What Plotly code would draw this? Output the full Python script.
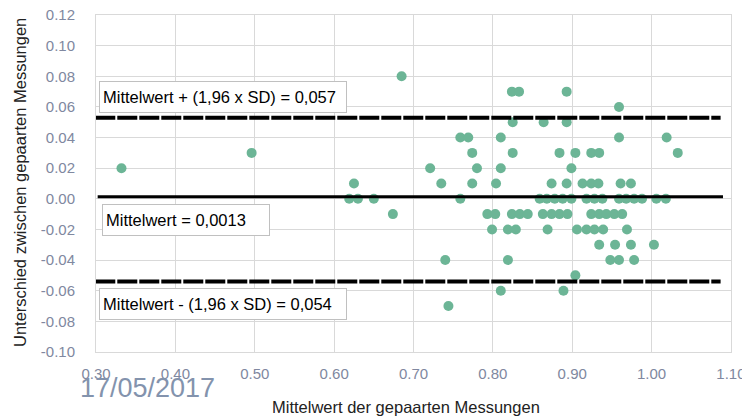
import plotly.graph_objects as go

# ---- data ----
rows_y = [0.08, 0.07, 0.06, 0.05, 0.04, 0.03, 0.02, 0.01, 0.00,
          -0.01, -0.02, -0.03, -0.04, -0.05, -0.06, -0.07]
row_08 = [0.685]
row_07 = [0.824, 0.833, 0.893]
row_06 = [0.959]
row_05 = [0.825, 0.864, 0.893]
row_04 = [0.759, 0.769, 0.810, 0.959, 1.019]
row_03 = [0.496, 0.774, 0.825, 0.884, 0.904, 0.924, 0.934, 1.033]
row_02 = [0.332, 0.721, 0.780, 0.810, 0.899]
row_01 = [0.625, 0.735, 0.774, 0.804, 0.874, 0.893, 0.913, 0.924, 0.933, 0.961, 0.974]
row_00 = [0.619, 0.630, 0.650, 0.759, 0.859, 0.868, 0.878, 0.888, 0.899, 0.918,
          0.928, 0.938, 0.959, 0.968, 0.978, 0.988, 1.006, 1.018]
row_m01 = [0.674, 0.793, 0.803, 0.824, 0.834, 0.844, 0.863, 0.874, 0.884, 0.894,
           0.924, 0.934, 0.943, 0.953, 0.963]
row_m02 = [0.799, 0.819, 0.829, 0.869, 0.906, 0.918, 0.928, 0.939, 0.969]
row_m03 = [0.934, 0.954, 0.974, 1.003]
row_m04 = [0.740, 0.819, 0.948, 0.959, 0.978]
row_m05 = [0.904]
row_m06 = [0.810, 0.889]
row_m07 = [0.744]
rows_x = [row_08, row_07, row_06, row_05, row_04, row_03, row_02, row_01, row_00,
          row_m01, row_m02, row_m03, row_m04, row_m05, row_m06, row_m07]

mean_value = 0.0013
upper_limit = 0.053
lower_limit = -0.054
limit_x = [0.299, 1.087]
mean_x = [0.302, 1.09]

label_upper = "Mittelwert + (1,96 x SD) = 0,057"
label_mean = "Mittelwert = 0,0013"
label_lower = "Mittelwert - (1,96 x SD) = 0,054"
x_title = "Mittelwert der gepaarten Messungen"
y_title = "Unterschied zwischen gepaarten Messungen"
date_text = "17/05/2017"

x_ticks = [0.30, 0.40, 0.50, 0.60, 0.70, 0.80, 0.90, 1.00, 1.10]
y_ticks = [0.12, 0.10, 0.08, 0.06, 0.04, 0.02, 0.00, -0.02, -0.04, -0.06, -0.08, -0.10]

# ---- build ----
xs, ys = [], []
for yv, xr in zip(rows_y, rows_x):
    for xv in xr:
        xs.append(xv)
        ys.append(yv)

fig = go.Figure()
fig.add_trace(go.Scatter(x=xs, y=ys, mode="markers",
                         marker=dict(color="#6cb596", size=10, line=dict(width=0)),
                         showlegend=False, hoverinfo="skip"))
fig.add_trace(go.Scatter(x=limit_x, y=[upper_limit] * 2, mode="lines",
                         line=dict(color="black", width=4, dash="20px,2px"),
                         showlegend=False))
fig.add_trace(go.Scatter(x=limit_x, y=[lower_limit] * 2, mode="lines",
                         line=dict(color="black", width=4, dash="20px,2px"),
                         showlegend=False))
fig.add_trace(go.Scatter(x=mean_x, y=[mean_value] * 2, mode="lines",
                         line=dict(color="black", width=3),
                         showlegend=False))

FONT = "Liberation Sans, Arial, sans-serif"
tick_font = dict(family=FONT, size=15, color="#8088a0")

fig.update_xaxes(range=[0.2999, 1.1001], tickvals=x_ticks, ticktext=[f"{v:.2f}" for v in x_ticks],
                 showgrid=True, gridcolor="#d9d9d9", gridwidth=1,
                 showline=True, linecolor="#d9d9d9", linewidth=1, mirror=True,
                 zeroline=False, ticks="", tickfont=tick_font, ticklabelstandoff=8,
                 ticklabeloverflow="allow", automargin=False)
fig.update_yaxes(range=[-0.10005, 0.12005], tickvals=y_ticks, ticktext=[f"{v:.2f}" for v in y_ticks],
                 showgrid=True, gridcolor="#d9d9d9", gridwidth=1,
                 showline=True, linecolor="#d9d9d9", linewidth=1, mirror=True,
                 zeroline=False, ticks="", tickfont=tick_font, ticklabelstandoff=17,
                 ticklabeloverflow="allow", automargin=False)

box_font = dict(family=FONT, size=16.5, color="black")
common = dict(xref="x", yref="y", showarrow=False, bgcolor="white",
              bordercolor="#c0c0c0", borderwidth=1, borderpad=3, align="left",
              font=box_font, height=24)
fig.add_annotation(text=label_upper, x=0.4605, y=0.0665, width=240, **common)
fig.add_annotation(text=label_mean, x=0.4135, y=-0.0140, width=160, **common)
fig.add_annotation(text=label_lower, x=0.4605, y=-0.0685, width=240, **common)

fig.add_annotation(text=x_title, xref="paper", yref="paper", x=(406 - 96) / 635, y=(352 - 407) / 337,
                   showarrow=False, xanchor="center", yanchor="middle",
                   font=dict(family=FONT, size=16.5, color="#222"))
fig.add_annotation(text=y_title, xref="paper", yref="paper", x=(20 - 96) / 635, y=(352 - 183) / 337,
                   showarrow=False, xanchor="center", yanchor="middle", textangle=-90,
                   font=dict(family=FONT, size=16.5, color="#222"))
fig.add_annotation(text=date_text, xref="paper", yref="paper", x=(78 - 96) / 635, y=(352 - 388) / 337,
                   showarrow=False, xanchor="left", yanchor="middle",
                   font=dict(family=FONT, size=27, color="#8393ad"))

# page body has an 8px margin, so shrink the figure and its left/top margins by 8px
fig.update_layout(width=742, height=409, margin=dict(l=88, r=19, t=7, b=65, autoexpand=False),
                  plot_bgcolor="white", paper_bgcolor="white", showlegend=False)

fig.write_html("out.html")
